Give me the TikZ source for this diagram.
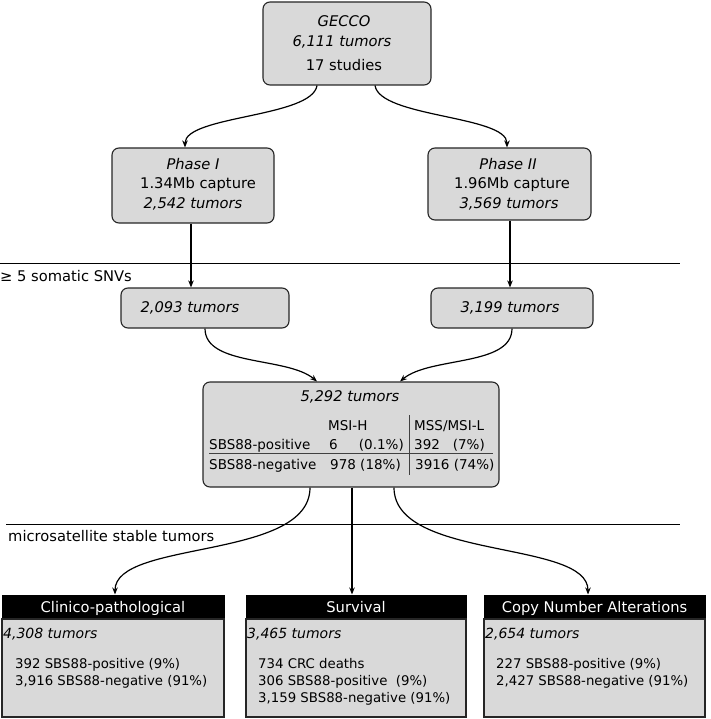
\documentclass[tikz,border=0pt]{standalone}
\usepackage{fontspec}
\setmainfont{DejaVu Sans}
\usetikzlibrary{arrows.meta,calc}
\begin{document}
\begin{tikzpicture}[x=1pt,y=-1pt,
  box/.style={draw=black!85, line width=1.1pt, fill=black!15, rounded corners=7pt, inner sep=0pt},
  conn/.style={line width=1.2pt, -{Stealth[length=7pt,width=5.5pt]}},
  sepline/.style={line width=0.9pt},
  txt/.style={inner sep=0pt, anchor=base, font=\fontsize{14.7}{19}\selectfont},
  ltxt/.style={inner sep=0pt, anchor=base west, font=\fontsize{14.7}{19}\selectfont},
  tab/.style={inner sep=0pt, anchor=base west, font=\fontsize{13.5}{17}\selectfont},
  tabr/.style={inner sep=0pt, anchor=base east, font=\fontsize{13.5}{17}\selectfont},
  small/.style={inner sep=0pt, anchor=base west, font=\fontsize{13.3}{16.7}\selectfont},
  btum/.style={inner sep=0pt, anchor=base west, font=\fontsize{14}{17}\selectfont\itshape},
  hdr/.style={draw=black, fill=black, text=white, inner sep=0pt, line width=1pt},
  hdrtxt/.style={inner sep=0pt, anchor=base, text=white, font=\fontsize{14.7}{17}\selectfont},
  body/.style={draw=black!85, fill=black!15, inner sep=0pt, line width=1.1pt}]
\useasboundingbox (0,0) rectangle (710,719);

% separators
\coordinate (s1a) at (0,263);
\coordinate (s1b) at (680,263);
\draw[sepline] (s1a) -- (s1b);
\node[ltxt] (s1lab) at (0,281) {≥ 5 somatic SNVs};
\coordinate (s2a) at (6,524);
\coordinate (s2b) at (680,524);
\draw[sepline] (s2a) -- (s2b);
\node[ltxt] (s2lab) at (8,541) {microsatellite stable tumors};

% GECCO
\node[box, minimum width=168pt, minimum height=83pt] (gecco) at (347,43.5) {};
\node[txt] (g1) at (344,27) {\itshape GECCO};
\node[txt] (g2) at (342,47) {\itshape 6,111 tumors};
\node[txt] (g3) at (344,71) {17 studies};

% Phase I / II
\node[box, minimum width=162pt, minimum height=75pt] (ph1) at (193,185.5) {};
\node[txt] (p1a) at (193,170) {\itshape Phase I};
\node[txt] (p1b) at (198,189) {1.34Mb capture};
\node[txt] (p1c) at (193,208) {\itshape 2,542 tumors};
\node[box, minimum width=163pt, minimum height=72pt] (ph2) at (509.5,184) {};
\node[txt] (p2a) at (508,170) {\itshape Phase II};
\node[txt] (p2b) at (512,189) {1.96Mb capture};
\node[txt] (p2c) at (509,208) {\itshape 3,569 tumors};

% filtered
\node[box, minimum width=168pt, minimum height=40pt] (f1) at (205,308) {};
\node[txt] (f1t) at (190,312) {\itshape 2,093 tumors};
\node[box, minimum width=162pt, minimum height=40pt] (f2) at (512,308) {};
\node[txt] (f2t) at (510,312) {\itshape 3,199 tumors};

% merged
\node[box, minimum width=296pt, minimum height=105pt] (m) at (351,434.5) {};
\node[txt] (mt) at (350,401) {\itshape 5,292 tumors};
\node[tab] (c1) at (328,430) {MSI-H};
\node[tab] (c2) at (414,430) {MSS/MSI-L};
\node[tab] (r1) at (209,449) {SBS88-positive};
\node[tab] (r1a) at (329,449) {6};
\node[tabr] (r1b) at (404,449) {(0.1\%)};
\node[tab] (r1c) at (414,449) {392};
\node[tabr] (r1d) at (485,449) {(7\%)};
\node[tab] (r2) at (209,469) {SBS88-negative};
\node[tab] (r2a) at (330,469) {978 (18\%)};
\node[tab] (r2b) at (415,469) {3916 (74\%)};
\coordinate (hl1) at (209,453);
\coordinate (hl2) at (493,453);
\draw[line width=0.9pt, black!75] (hl1) -- (hl2);
\coordinate (vl1) at (409,415);
\coordinate (vl2) at (409,475);
\draw[line width=0.9pt, black!75] (vl1) -- (vl2);

% bottom boxes
\node[hdr, minimum width=222pt, minimum height=24pt] (h1) at (113,607) {};
\node[body, minimum width=222pt, minimum height=98pt] (b1) at (113,668) {};
\node[hdrtxt] (h1t) at (113,612) {Clinico-pathological};
\node[btum] (b1a) at (3,638) {4,308 tumors};
\node[small] (b1b) at (15,668) {392 SBS88-positive (9\%)};
\node[small] (b1c) at (15,685) {3,916 SBS88-negative (91\%)};

\node[hdr, minimum width=220pt, minimum height=24pt] (h2) at (356,607) {};
\node[body, minimum width=220pt, minimum height=98pt] (b2) at (356,668) {};
\node[hdrtxt] (h2t) at (356,612) {Survival};
\node[btum] (b2a) at (247,638) {3,465 tumors};
\node[small] (b2b) at (258,668) {734 CRC deaths};
\node[small] (b2c) at (258,685) {306 SBS88-positive\ \ (9\%)};
\node[small] (b2d) at (258,702) {3,159 SBS88-negative (91\%)};

\node[hdr, minimum width=221pt, minimum height=24pt] (h3) at (594.5,607) {};
\node[body, minimum width=221pt, minimum height=98pt] (b3) at (594.5,668) {};
\node[hdrtxt] (h3t) at (594.5,612) {Copy Number Alterations};
\node[btum] (b3a) at (485,638) {2,654 tumors};
\node[small] (b3b) at (496,668) {227 SBS88-positive (9\%)};
\node[small] (b3c) at (496,685) {2,427 SBS88-negative (91\%)};

% connectors
\draw[conn] ([xshift=-30pt]gecco.south) .. controls +(-5,32) and +(0,-32) .. ([xshift=-8pt]ph1.north);
\draw[conn] ([xshift=28pt]gecco.south) .. controls +(5,32) and +(0,-32) .. ([xshift=-2.5pt]ph2.north);
\draw[conn] ([xshift=-2pt]ph1.south) -- ([xshift=-2pt]ph1.south |- f1.north);
\draw[conn] ([xshift=0.5pt]ph2.south) -- ([xshift=0.5pt]ph2.south |- f2.north);
\draw[conn] (f1.south) .. controls +(0,38) and +(-30,-25) .. ([xshift=-34pt]m.north);
\draw[conn] (f2.south) .. controls +(0,38) and +(30,-25) .. ([xshift=49pt]m.north);
\draw[conn] ([xshift=-41pt]m.south) .. controls +(0,73) and +(0,-55) .. ([xshift=2pt]h1.north);
\draw[conn] ([xshift=1pt]m.south) -- ([xshift=1pt]m.south |- h2.north);
\draw[conn] ([xshift=43pt]m.south) .. controls +(0,73) and +(0,-55) .. ([xshift=-6.5pt]h3.north);
\end{tikzpicture}
\end{document}
